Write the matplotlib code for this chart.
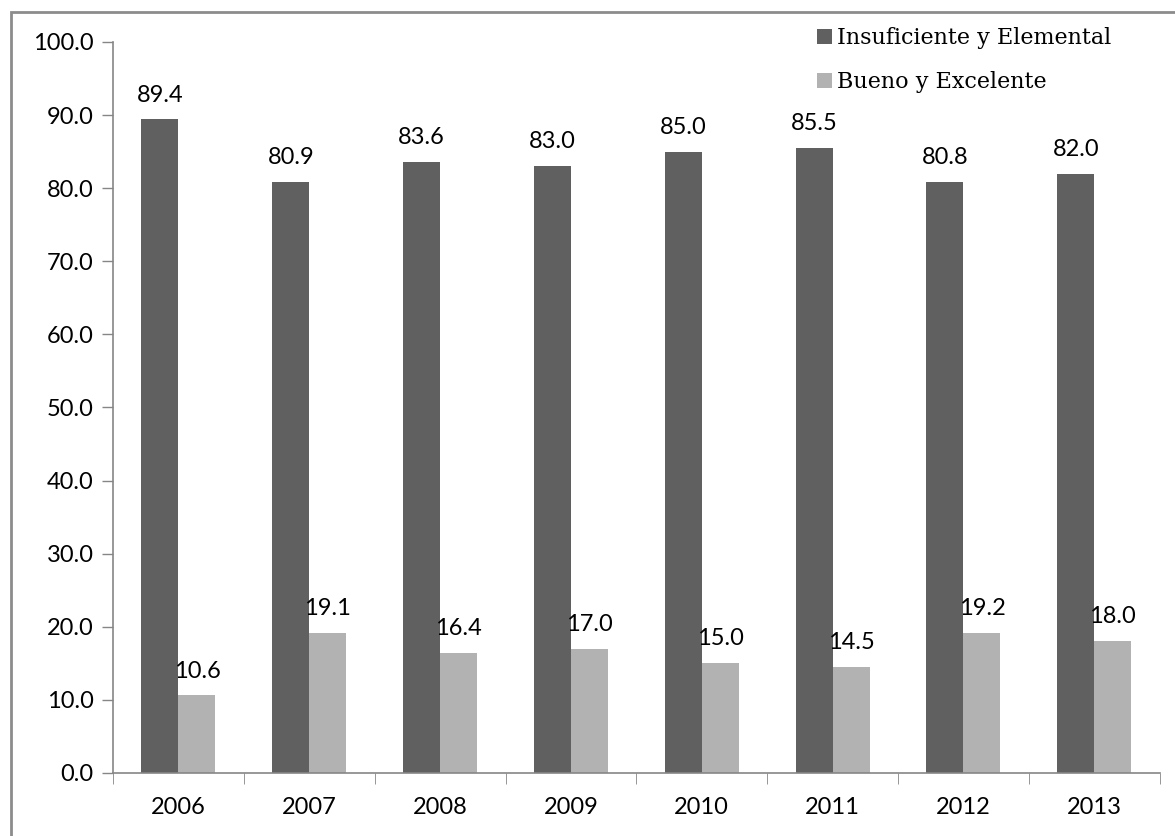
import matplotlib.pyplot as plt
import matplotlib.patches as mpatches
import numpy as np

years = ['2006', '2007', '2008', '2009', '2010', '2011', '2012', '2013']
insuficiente = [89.4, 80.9, 83.6, 83.0, 85.0, 85.5, 80.8, 82.0]
bueno = [10.6, 19.1, 16.4, 17.0, 15.0, 14.5, 19.2, 18.0]
series_names = ['Insuficiente y Elemental', 'Bueno y Excelente']

dark = '#606060'
light = '#b2b2b2'
axis_col = '#868686'
fs = 17

fig = plt.figure(figsize=(11.75, 8.36), dpi=100)
ax = fig.add_axes([0.0962, 0.0754, 0.8908, 0.8744])

x = np.arange(len(years))
w = 0.283
b1 = ax.bar(x - w / 2, insuficiente, w, color=dark, label=series_names[0])
b2 = ax.bar(x + w / 2, bueno, w, color=light, label=series_names[1])

for bars, vals in [(b1, insuficiente), (b2, bueno)]:
    for rect, v in zip(bars, vals):
        ax.annotate(f'{v:.1f}', (rect.get_x() + rect.get_width() / 2, v), xytext=(0, 10),
                    textcoords='offset points', ha='center', va='bottom', fontsize=fs, family='Lato')

ax.set_xlim(-0.5, len(years) - 0.5)
ax.set_ylim(0, 100)
ax.set_yticks(np.arange(0, 101, 10))
ax.set_yticklabels([f'{t:.1f}' for t in np.arange(0, 101, 10)], fontsize=fs, family='Lato')
ax.set_xticks(x)
ax.set_xticklabels(years, fontsize=fs, family='Lato')
ax.tick_params(axis='x', which='major', length=0, pad=17)
ax.set_xticks(np.arange(-0.5, len(years)), minor=True)
ax.tick_params(axis='x', which='minor', length=8, color=axis_col, direction='out')
ax.tick_params(axis='y', length=8, color=axis_col, width=1, pad=6)

for s in ['top', 'right']:
    ax.spines[s].set_visible(False)
for s in ['left', 'bottom']:
    ax.spines[s].set_color(axis_col)
    ax.spines[s].set_linewidth(1.2)

fig.legend(handles=[b1, b2], loc='upper left', bbox_to_anchor=(806 / 1175, 1 - 16 / 836),
           frameon=False, prop={'family': 'DejaVu Serif', 'size': 16}, handlelength=0.65,
           handleheight=0.65, handletextpad=0.25, labelspacing=1.0, borderpad=0)

# outer chart border (only left/top visible in the crop)
fig.patches.append(mpatches.Rectangle((11 / 1175, -0.1), 1.2, (836 - 12) / 836 + 0.1,
                                      transform=fig.transFigure, fill=False,
                                      edgecolor='#8c8c8c', linewidth=2))

fig.savefig('out.png', dpi=100)
